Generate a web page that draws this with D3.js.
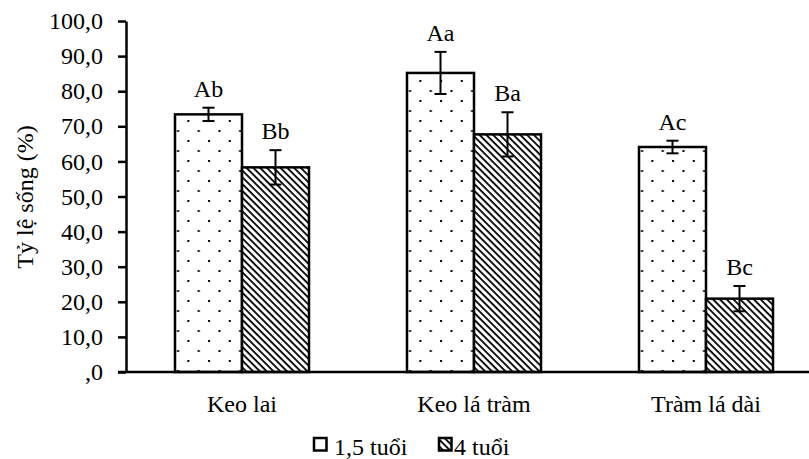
<!DOCTYPE html>
<html lang="vi">
<head>
<meta charset="UTF-8">
<title>Tỷ lệ sống</title>
<script src="https://d3js.org/d3.v7.min.js"></script>
<style>
  body { margin: 0; background: #fff; }
  svg text { font-family: 'Liberation Serif', 'Times New Roman', Times, serif; fill: #000; }
</style>
</head>
<body>
<div id="chart"></div>
<script>
  const categories = ["Keo lai", "Keo lá tràm", "Tràm lá dài"];
  const seriesNames = ["1,5 tuổi", "4 tuổi"];
  const values15 = [73.4, 85.2, 64.1];
  const values4 = [58.3, 67.7, 20.9];
  const errors15 = [1.9, 6.0, 1.8];
  const errors4 = [4.9, 6.3, 3.6];
  const letters15 = ["Ab", "Aa", "Ac"];
  const letters4 = ["Bb", "Ba", "Bc"];
  const yTicks = [0, 10, 20, 30, 40, 50, 60, 70, 80, 90, 100];
  const yTickLabels = [",0", "10,0", "20,0", "30,0", "40,0", "50,0", "60,0", "70,0", "80,0", "90,0", "100,0"];
  const yTitle = "Tỷ lệ sống (%)";

  const width = 809, height = 459;
  const marginLeft = 126, marginTop = 21, plotBottom = 372;
  const serif = "'Liberation Serif', 'Times New Roman', Times, serif";

  const data = categories.map((c, i) => ({
    cat: c,
    bars: [
      { key: seriesNames[0], value: values15[i], err: errors15[i], letter: letters15[i] },
      { key: seriesNames[1], value: values4[i], err: errors4[i], letter: letters4[i] }
    ]
  }));

  const svg = d3.select("#chart").append("svg")
    .attr("width", width)
    .attr("height", height)
    .attr("font-family", serif);

  // patterns
  const defs = svg.append("defs");
  const dots = defs.append("pattern")
    .attr("id", "dots")
    .attr("patternUnits", "userSpaceOnUse")
    .attr("width", 20.7).attr("height", 20)
    .attr("x", 178).attr("y", 0);
  dots.append("rect").attr("width", 20.7).attr("height", 20).attr("fill", "#fff");
  dots.append("rect").attr("x", 0).attr("y", 0).attr("width", 2).attr("height", 2).attr("fill", "#000");
  dots.append("rect").attr("x", 10.35).attr("y", 10).attr("width", 2).attr("height", 2).attr("fill", "#000");

  const hatch = defs.append("pattern")
    .attr("id", "hatch")
    .attr("patternUnits", "userSpaceOnUse")
    .attr("width", 4.8).attr("height", 4.8)
    .attr("patternTransform", "rotate(45)");
  hatch.append("rect").attr("width", 4.8).attr("height", 4.8).attr("fill", "#fff");
  hatch.append("rect").attr("x", 0).attr("y", 0).attr("width", 4.8).attr("height", 1.8).attr("fill", "#000");

  const fills = { [seriesNames[0]]: "url(#dots)", [seriesNames[1]]: "url(#hatch)" };

  const x = d3.scaleBand()
    .domain(categories)
    .range([marginLeft, 822])
    .paddingInner(0.4224)
    .paddingOuter(0.2112);

  const x1 = d3.scaleBand()
    .domain(seriesNames)
    .range([0, x.bandwidth()]);

  const y = d3.scaleLinear()
    .domain([0, 100])
    .range([plotBottom, marginTop]);

  // y axis
  svg.append("g")
    .attr("transform", `translate(${marginLeft},0)`)
    .call(d3.axisLeft(y).tickValues(yTicks).tickSize(8).tickSizeOuter(0)
      .tickFormat((d, i) => yTickLabels[i]))
    .attr("font-family", serif)
    .attr("font-size", 24)
    .call(g => g.select(".domain").attr("stroke-width", 2.5))
    .call(g => g.selectAll(".tick line").attr("stroke-width", 2.5))
    .call(g => g.selectAll(".tick text").attr("x", -23));

  svg.append("text")
    .attr("transform", `translate(33,197) rotate(-90)`)
    .attr("text-anchor", "middle")
    .attr("font-size", 24)
    .text(yTitle);

  // bars
  const groups = svg.append("g")
    .selectAll("g")
    .data(data)
    .join("g")
    .attr("transform", d => `translate(${x(d.cat)},0)`);

  groups.selectAll("rect")
    .data(d => d.bars)
    .join("rect")
    .attr("x", d => x1(d.key))
    .attr("y", d => y(d.value))
    .attr("width", x1.bandwidth())
    .attr("height", d => y(0) - y(d.value))
    .attr("fill", d => fills[d.key])
    .attr("stroke", "#000")
    .attr("stroke-width", 2.5);

  // error bars
  const eb = groups.selectAll("g.err")
    .data(d => d.bars)
    .join("g")
    .attr("class", "err")
    .attr("transform", d => `translate(${x1(d.key) + x1.bandwidth() / 2},0)`);

  eb.append("line")
    .attr("y1", d => y(d.value + d.err))
    .attr("y2", d => y(d.value - d.err))
    .attr("stroke", "#000").attr("stroke-width", 2);
  eb.selectAll("line.cap")
    .data(d => [d.value + d.err, d.value - d.err])
    .join("line")
    .attr("class", "cap")
    .attr("x1", -6).attr("x2", 6)
    .attr("y1", v => y(v)).attr("y2", v => y(v))
    .attr("stroke", "#000").attr("stroke-width", 2);

  eb.append("text")
    .attr("y", d => y(d.value + d.err) - 11)
    .attr("text-anchor", "middle")
    .attr("font-size", 24)
    .text(d => d.letter);

  // x axis
  svg.append("line")
    .attr("x1", marginLeft - 8).attr("x2", 822)
    .attr("y1", y(0)).attr("y2", y(0))
    .attr("stroke", "#000").attr("stroke-width", 2.5);

  svg.append("g")
    .selectAll("text")
    .data(categories)
    .join("text")
    .attr("x", d => x(d) + x.bandwidth() / 2)
    .attr("y", 412)
    .attr("text-anchor", "middle")
    .attr("font-size", 24)
    .text(d => d);

  // legend
  const legendX = [314, 439];
  const legendTextX = [20, 15];
  const legend = svg.append("g")
    .selectAll("g")
    .data(seriesNames)
    .join("g")
    .attr("transform", (d, i) => `translate(${legendX[i]},438)`);

  legend.append("rect")
    .attr("width", 12.5).attr("height", 12.5)
    .attr("fill", (d, i) => i === 0 ? "#fff" : "url(#hatch)")
    .attr("stroke", "#000")
    .attr("stroke-width", 2.5);

  legend.append("text")
    .attr("x", (d, i) => legendTextX[i])
    .attr("y", 17)
    .attr("font-size", 24)
    .text(d => d);
</script>
</body>
</html>
